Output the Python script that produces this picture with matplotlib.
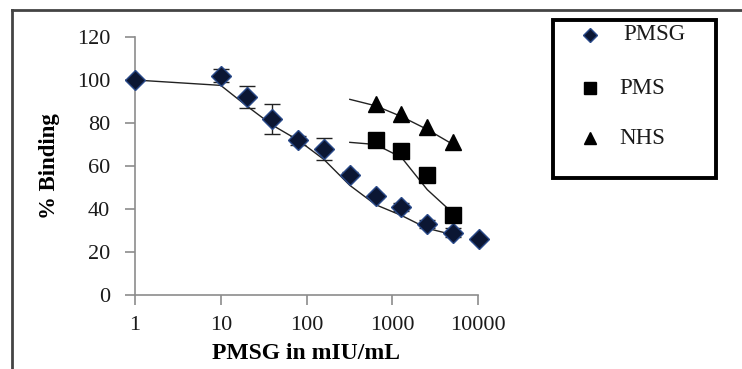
import matplotlib
matplotlib.use("Agg")
import matplotlib.pyplot as plt
from matplotlib.lines import Line2D
from matplotlib.patches import Rectangle

plt.rcParams['font.family'] = ['Liberation Serif', 'DejaVu Serif']

# PMSG standard curve
pmsg_x = [1, 10, 20, 40, 80, 160, 320, 640, 1280, 2560, 5120, 10240]
pmsg_y = [100, 102, 92, 82, 72, 68, 56, 46, 41, 33, 29, 26]
pmsg_err = [0, 3, 5, 7, 2, 5, 1, 1, 2, 2, 2, 1]
pmsg_fit_x = [1, 10, 20, 40, 80, 160, 320, 640, 1280, 2560, 5120]
pmsg_fit_y = [100, 97.5, 88, 79, 72, 63, 51, 42, 37, 31, 28]

# PMS
pms_x = [640, 1280, 2560, 5120]
pms_y = [72, 67, 56, 37]
pms_fit_x = [320, 640, 1280, 2560, 5120]
pms_fit_y = [71, 70, 64, 49, 38]

# NHS
nhs_x = [640, 1280, 2560, 5120]
nhs_y = [89, 84, 78, 71]
nhs_fit_x = [320, 640, 1280, 2560, 5120]
nhs_fit_y = [91, 88, 83, 77, 70]

series_names = ['PMSG', 'PMS', 'NHS']
xticks = [1, 10, 100, 1000, 10000]
yticks = [0, 20, 40, 60, 80, 100, 120]

W, H = 742, 369
fig = plt.figure(figsize=(W/100, H/100), dpi=100)
ax = fig.add_axes([135/W, 1-295/H, (478-135)/W, (295-37)/H])

navy = '#0b1633'
edge = '#2a4a8a'

ax.plot(pmsg_fit_x, pmsg_fit_y, color='#222222', lw=1.0, zorder=2)
ax.plot(pms_fit_x, pms_fit_y, color='#222222', lw=1.0, zorder=2)
ax.plot(nhs_fit_x, nhs_fit_y, color='#222222', lw=1.0, zorder=2)

ax.errorbar(pmsg_x, pmsg_y, yerr=pmsg_err, fmt='none', ecolor='#222222',
            elinewidth=1.0, capsize=6, zorder=3)
ax.plot(pmsg_x, pmsg_y, 'D', ms=10, mfc=navy, mec=edge, mew=1.0, ls='none',
        zorder=4, clip_on=False)
ax.plot(pms_x, pms_y, 's', ms=11, color='black', ls='none', zorder=4)
ax.plot(nhs_x, nhs_y, '^', ms=12, color='black', ls='none', zorder=4)

ax.set_xscale('log')
ax.set_xlim(1, 10000)
ax.set_ylim(0, 120)
ax.set_xticks(xticks)
ax.set_xticklabels([str(v) for v in xticks])
ax.minorticks_off()
ax.set_yticks(yticks)
ax.set_yticklabels([str(v) for v in yticks])

for s in ['top', 'right']:
    ax.spines[s].set_visible(False)
for s in ['left', 'bottom']:
    ax.spines[s].set_color('#8c8c8c')
    ax.spines[s].set_linewidth(1.2)
ax.tick_params(axis='both', colors='#8c8c8c', length=7, width=1.2, direction='out',
               labelsize=16, labelcolor='#1a1a1a')
ax.tick_params(axis='x', pad=8)
ax.tick_params(axis='y', pad=11)
ax.set_xlabel('PMSG in mIU/mL', fontsize=17, fontweight='bold', labelpad=6)
ax.set_ylabel('% Binding', fontsize=16.5, fontweight='bold', labelpad=12)
ax.patch.set_alpha(0)

# outer frame lines
fig.add_artist(Line2D([12/W, 12/W], [0, 1-10/H], color='#444444', lw=2,
                      transform=fig.transFigure))
fig.add_artist(Line2D([12/W, 1], [1-10/H, 1-10/H], color='#444444', lw=2,
                      transform=fig.transFigure))

# legend box
fig.add_artist(Rectangle((553/W, 1-178/H), (716-553)/W, (178-20)/H,
                         fill=True, facecolor='white', edgecolor='black', lw=2.8,
                         transform=fig.transFigure))
leg_styles = [
    dict(marker='D', ms=7, mfc=navy, mec=edge),
    dict(marker='s', ms=8.5, mfc='black', mec='black'),
    dict(marker='^', ms=9, mfc='black', mec='black'),
]
leg_y = [35, 88, 138]
leg_tx = [623, 619, 619]
for name, st, yy, tx in zip(series_names, leg_styles, leg_y, leg_tx):
    fig.add_artist(Line2D([590/W], [1-yy/H], ls='none', transform=fig.transFigure, **st))
    fig.text(tx/W, 1-yy/H, name, fontsize=16.5, va='center', ha='left', color='#1a1a1a')

fig.savefig('out.png', dpi=100)
